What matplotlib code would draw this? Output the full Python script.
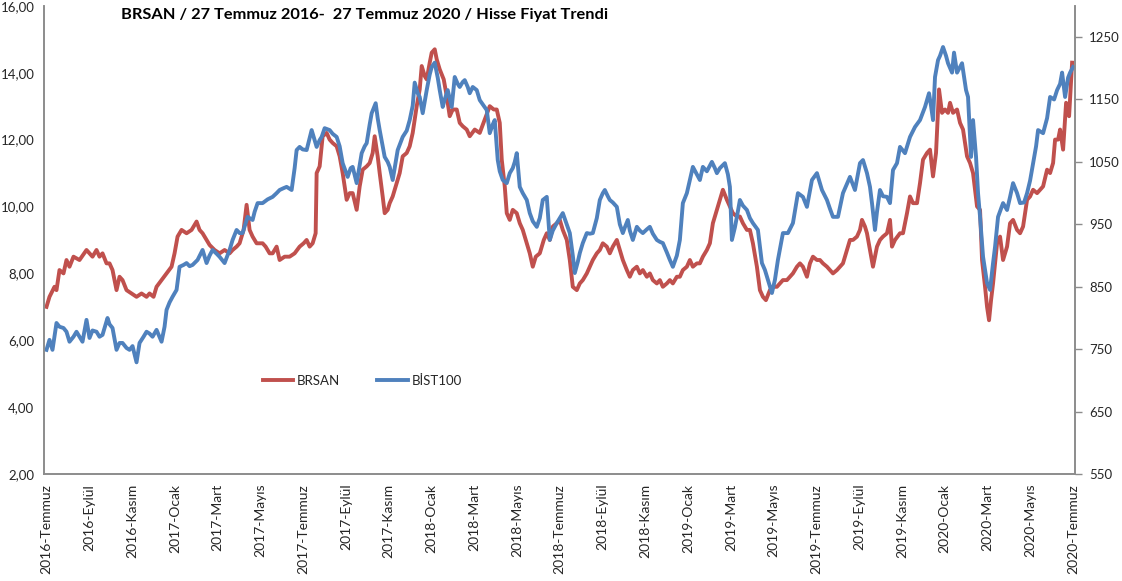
import matplotlib
matplotlib.use("Agg")
import matplotlib.pyplot as plt
from matplotlib.ticker import FuncFormatter
import numpy as np

# -----------------------------
# Data (x = trading-day index from 27 Jul 2016)
# -----------------------------
brsan_day = [0, 3, 8, 10, 13, 17, 20, 23, 27, 33, 40, 46, 50, 53, 56, 60, 63, 66, 70, 73, 76, 80, 85, 90, 95,
             100, 103, 107, 110, 115, 120, 125, 128, 131, 135, 140, 145, 150, 153, 156, 160, 163, 168, 173, 178,
             183, 186, 190, 193, 197, 200, 203, 206, 210, 216, 219, 223, 226, 230, 233, 238, 243, 248, 253, 257,
             260, 263, 266, 269, 270, 273, 276, 280, 283, 286, 290, 293, 296, 300, 303, 306, 310, 313, 316, 320,
             323, 326, 328, 331, 333, 336, 338, 341, 343, 346, 350, 353, 356, 360, 363, 366, 370, 373, 375, 378,
             380, 383, 385, 388, 390, 393, 397, 400, 403, 406, 410, 413, 416, 420, 423, 428, 433, 438, 443, 447,
             450, 453, 455, 458, 460, 463, 466, 470, 473, 476, 480, 483, 486, 489, 493, 497, 500, 503, 506, 510,
             513, 516, 520, 523, 526, 530, 533, 536, 540, 543, 546, 550, 553, 556, 560, 563, 566, 570, 573, 576,
             580, 583, 586, 590, 593, 596, 600, 603, 606, 610, 613, 616, 620, 623, 626, 630, 633, 636, 640, 643,
             646, 650, 653, 656, 660, 663, 666, 670, 673, 676, 680, 683, 686, 690, 693, 696, 700, 703, 706, 710,
             713, 716, 719, 723, 726, 730, 733, 736, 740, 743, 746, 750, 753, 756, 760, 763, 766, 770, 773, 776,
             780, 783, 786, 790, 793, 796, 800, 803, 806, 810, 813, 815, 818, 820, 823, 826, 830, 833, 836, 840,
             843, 845, 848, 853, 856, 860, 863, 866, 870, 873, 876, 880, 883, 886, 889, 892, 895, 898, 901, 903,
             906, 910, 913, 916, 920, 923, 926, 928, 930, 933, 935, 938, 940, 942, 944, 946, 950, 953, 956, 960,
             963, 966, 970, 973, 976, 980, 983, 986, 990, 993, 996, 1000, 1003, 1006, 1008, 1011, 1013, 1016,
             1019, 1022, 1025]
brsan_val = [7.0, 7.3, 7.6, 7.5, 8.1, 8.0, 8.4, 8.2, 8.5, 8.4, 8.7, 8.5, 8.7, 8.5, 8.6, 8.3, 8.3, 8.1, 7.5, 7.9,
             7.8, 7.5, 7.4, 7.3, 7.4, 7.3, 7.4, 7.3, 7.6, 7.8, 8.0, 8.2, 8.6, 9.1, 9.3, 9.2, 9.3, 9.55, 9.3, 9.2,
             9.0, 8.85, 8.7, 8.6, 8.7, 8.6, 8.7, 8.8, 8.9, 9.3, 10.05, 9.3, 9.1, 8.9, 8.9, 8.8, 8.6, 8.6, 8.8, 8.4,
             8.5, 8.5, 8.6, 8.8, 8.9, 9.0, 8.8, 8.9, 9.2, 11.0, 11.2, 12.1, 12.2, 12.0, 11.9, 11.8, 11.5, 11.0,
             10.2, 10.4, 10.4, 9.9, 10.6, 11.1, 11.2, 11.3, 11.6, 12.1, 11.5, 11.0, 10.3, 9.8, 9.9, 10.1, 10.3,
             10.7, 11.0, 11.5, 11.6, 11.8, 12.2, 13.0, 13.5, 14.2, 13.9, 13.8, 14.3, 14.6, 14.7, 14.4, 14.1, 13.8,
             13.3, 12.7, 12.9, 12.9, 12.5, 12.4, 12.3, 12.1, 12.3, 12.2, 12.6, 13.0, 12.9, 12.9, 12.5, 11.4, 10.6,
             9.8, 9.6, 9.9, 9.8, 9.5, 9.3, 8.9, 8.6, 8.2, 8.5, 8.6, 9.0, 9.2, 9.0, 9.4, 9.5, 9.6, 9.3, 9.0, 8.4,
             7.6, 7.5, 7.7, 7.8, 8.0, 8.2, 8.4, 8.6, 8.7, 8.9, 8.8, 8.6, 8.8, 9.0, 8.7, 8.4, 8.1, 7.9, 8.1, 8.2,
             8.0, 8.1, 7.9, 8.0, 7.8, 7.7, 7.8, 7.6, 7.7, 7.8, 7.7, 7.9, 7.9, 8.1, 8.2, 8.4, 8.2, 8.3, 8.3, 8.5,
             8.7, 8.9, 9.5, 9.9, 10.2, 10.5, 10.2, 10.0, 9.8, 9.7, 9.7, 9.5, 9.3, 9.3, 8.9, 8.2, 7.5, 7.3, 7.2,
             7.5, 7.6, 7.6, 7.7, 7.8, 7.8, 7.9, 8.0, 8.2, 8.3, 8.2, 7.9, 8.3, 8.5, 8.4, 8.4, 8.3, 8.2, 8.1, 8.0,
             8.1, 8.2, 8.3, 8.7, 9.0, 9.0, 9.1, 9.3, 9.6, 9.4, 9.2, 8.7, 8.2, 8.8, 9.0, 9.1, 9.2, 9.6, 8.8, 9.0,
             9.2, 9.2, 9.8, 10.3, 10.1, 10.1, 10.7, 11.4, 11.6, 11.7, 10.9, 11.6, 13.5, 12.8, 12.9, 12.8, 13.1,
             12.8, 12.9, 12.5, 12.3, 11.5, 11.3, 11.0, 10.5, 10.0, 9.9, 8.4, 7.6, 7.0, 6.6, 7.2, 7.7, 8.9, 9.1,
             8.4, 8.8, 9.5, 9.6, 9.3, 9.2, 9.4, 10.2, 10.3, 10.5, 10.4, 10.5, 10.6, 11.1, 11.0, 11.3, 12.0, 12.0,
             12.3, 11.7, 13.1, 12.7, 14.3]

bist_day = [0, 3, 6, 10, 13, 17, 20, 23, 27, 30, 33, 36, 40, 43, 46, 50, 53, 56, 61, 63, 66, 70, 73, 76, 80,
            83, 86, 90, 93, 97, 100, 103, 106, 110, 115, 118, 120, 123, 126, 130, 133, 137, 140, 143, 146, 151,
            156, 160, 163, 166, 170, 173, 178, 183, 186, 190, 193, 196, 201, 206, 208, 211, 216, 221, 226, 230,
            233, 237, 240, 245, 248, 250, 253, 256, 260, 265, 268, 270, 273, 275, 278, 283, 286, 290, 293, 296,
            299, 301, 304, 306, 310, 313, 315, 318, 320, 323, 325, 329, 331, 333, 338, 341, 343, 346, 349, 351,
            356, 360, 363, 366, 368, 371, 373, 376, 380, 383, 385, 388, 391, 393, 396, 398, 401, 405, 408, 411,
            413, 416, 418, 421, 423, 426, 430, 433, 437, 440, 443, 446, 448, 451, 453, 456, 460, 463, 466, 468,
            470, 473, 476, 480, 483, 486, 490, 493, 496, 500, 503, 506, 510, 513, 516, 520, 523, 526, 528, 531,
            533, 536, 540, 543, 546, 550, 553, 556, 558, 561, 563, 566, 570, 573, 576, 578, 581, 583, 586, 590,
            593, 596, 600, 603, 606, 610, 613, 616, 620, 623, 626, 630, 633, 636, 640, 643, 646, 650, 653, 656,
            660, 665, 668, 670, 673, 678, 681, 683, 685, 688, 690, 693, 696, 700, 703, 706, 711, 715, 718, 721,
            725, 728, 731, 736, 741, 746, 751, 756, 760, 765, 770, 775, 780, 783, 786, 791, 796, 800, 803, 808,
            813, 816, 820, 823, 825, 828, 830, 833, 836, 840, 843, 846, 850, 853, 858, 863, 868, 873, 878, 882,
            884, 886, 888, 891, 893, 896, 899, 901, 905, 907, 910, 915, 919, 921, 924, 926, 929, 931, 933, 936,
            940, 943, 946, 948, 951, 956, 960, 963, 966, 970, 973, 977, 980, 983, 986, 989, 991, 996, 1000, 1003,
            1007, 1010, 1013, 1015, 1018, 1021, 1023, 1026]
bist_val = [749, 765, 749, 792, 786, 784, 778, 762, 770, 778, 770, 762, 797, 768, 780, 778, 770, 773, 800, 790,
            784, 749, 760, 760, 752, 749, 755, 729, 760, 770, 778, 775, 770, 781, 762, 786, 813, 825, 834, 845,
            882, 885, 888, 883, 885, 893, 909, 888, 900, 909, 903, 898, 888, 909, 925, 941, 936, 936, 962, 957,
            970, 984, 984, 990, 994, 1000, 1005, 1008, 1010, 1005, 1040, 1069, 1074, 1070, 1069, 1101, 1085, 1074,
            1085, 1090, 1104, 1101, 1095, 1090, 1075, 1048, 1035, 1026, 1040, 1042, 1016, 1045, 1064, 1075, 1080,
            1110, 1128, 1144, 1120, 1101, 1058, 1050, 1042, 1021, 1050, 1069, 1090, 1100, 1117, 1140, 1177, 1160,
            1154, 1128, 1165, 1190, 1202, 1209, 1185, 1165, 1138, 1150, 1165, 1138, 1186, 1175, 1170, 1178, 1181,
            1170, 1160, 1170, 1165, 1149, 1140, 1133, 1096, 1110, 1117, 1053, 1035, 1021, 1016, 1032, 1040, 1050,
            1064, 1010, 1000, 989, 968, 955, 946, 960, 989, 994, 925, 940, 952, 960, 968, 950, 936, 900, 872, 890,
            904, 920, 936, 935, 936, 960, 989, 1000, 1005, 995, 989, 985, 978, 950, 936, 945, 957, 940, 925, 946,
            940, 936, 942, 946, 935, 925, 922, 920, 905, 893, 882, 900, 925, 984, 1000, 1021, 1042, 1030, 1021,
            1042, 1035, 1050, 1040, 1032, 1040, 1048, 1030, 1010, 925, 945, 962, 989, 980, 973, 960, 952, 941, 888,
            877, 861, 840, 861, 893, 936, 936, 952, 1000, 994, 978, 1021, 1032, 1005, 989, 975, 962, 962, 1000,
            1015, 1026, 1005, 1048, 1053, 1032, 1010, 984, 941, 970, 1005, 995, 994, 984, 1037, 1048, 1074, 1064,
            1090, 1106, 1117, 1138, 1160, 1140, 1117, 1186, 1213, 1220, 1234, 1220, 1208, 1193, 1225, 1193, 1208,
            1165, 1154, 1058, 1117, 1058, 1000, 962, 898, 856, 845, 888, 914, 962, 984, 973, 994, 1016, 1000, 984,
            985, 1000, 1020, 1048, 1075, 1101, 1096, 1120, 1154, 1150, 1165, 1175, 1193, 1154, 1185, 1193, 1202]

x_labels = ["2016-Temmuz", "2016-Eylül", "2016-Kasım",
            "2017-Ocak", "2017-Mart", "2017-Mayıs", "2017-Temmuz", "2017-Eylül", "2017-Kasım",
            "2018-Ocak", "2018-Mart", "2018-Mayıs", "2018-Temmuz", "2018-Eylül", "2018-Kasım",
            "2019-Ocak", "2019-Mart", "2019-Mayıs", "2019-Temmuz", "2019-Eylül", "2019-Kasım",
            "2020-Ocak", "2020-Mart", "2020-Mayıs", "2020-Temmuz"]

TITLE = "BRSAN / 27 Temmuz 2016-  27 Temmuz 2020 / Hisse Fiyat Trendi"
RED = "#C0504D"
BLUE = "#4F81BD"
GREY = "#8C8C8C"
TEXT = "#262626"

plt.rcParams["font.family"] = ["Lato", "DejaVu Sans"]

fig = plt.figure(figsize=(11.22, 5.81), dpi=100)
ax = fig.add_axes([0.0392, 0.184, 0.919, 0.806])
ax2 = ax.twinx()

l1, = ax.plot(brsan_day, brsan_val, color=RED, lw=2.8, solid_joinstyle="round")
l2, = ax2.plot(bist_day, bist_val, color=BLUE, lw=2.8, solid_joinstyle="round")

ax.set_xlim(-2.5, 1028)
ax.set_ylim(2, 16)
ax.set_yticks(np.arange(2, 17, 2))
ax.yaxis.set_major_formatter(FuncFormatter(lambda v, p: f"{v:.2f}".replace(".", ",")))
ax2.set_ylim(550, 1300)
ax2.set_yticks(np.arange(550, 1300, 100))

tick_pos = np.linspace(bist_day[0], bist_day[-1], len(x_labels))
ax.set_xticks(tick_pos)
ax.set_xticklabels(x_labels, rotation=90, va="top", ha="center")

for a in (ax, ax2):
    a.spines["top"].set_visible(False)
    for s in ("left", "right", "bottom"):
        a.spines[s].set_color(GREY)
        a.spines[s].set_linewidth(1.2)
ax.tick_params(axis="y", length=0, pad=7, labelsize=9.5, labelcolor=TEXT)
ax.tick_params(axis="x", length=0, pad=7, labelsize=10, labelcolor=TEXT)
ax2.tick_params(axis="y", length=5, width=1, color=GREY, direction="out", pad=5,
                labelsize=9.5, labelcolor=TEXT)

fig.text(0.325, 0.974, TITLE, ha="center", va="center", fontsize=11.8, fontweight="bold", color="black")

fig.legend([l1, l2], ["BRSAN", "BİST100"], loc="center", bbox_to_anchor=(0.323, 0.345),
           ncol=2, frameon=False, fontsize=9.5, handlelength=2.3, columnspacing=2.8,
           handletextpad=0.3, labelcolor=TEXT)

fig.savefig("out.png", dpi=100)
